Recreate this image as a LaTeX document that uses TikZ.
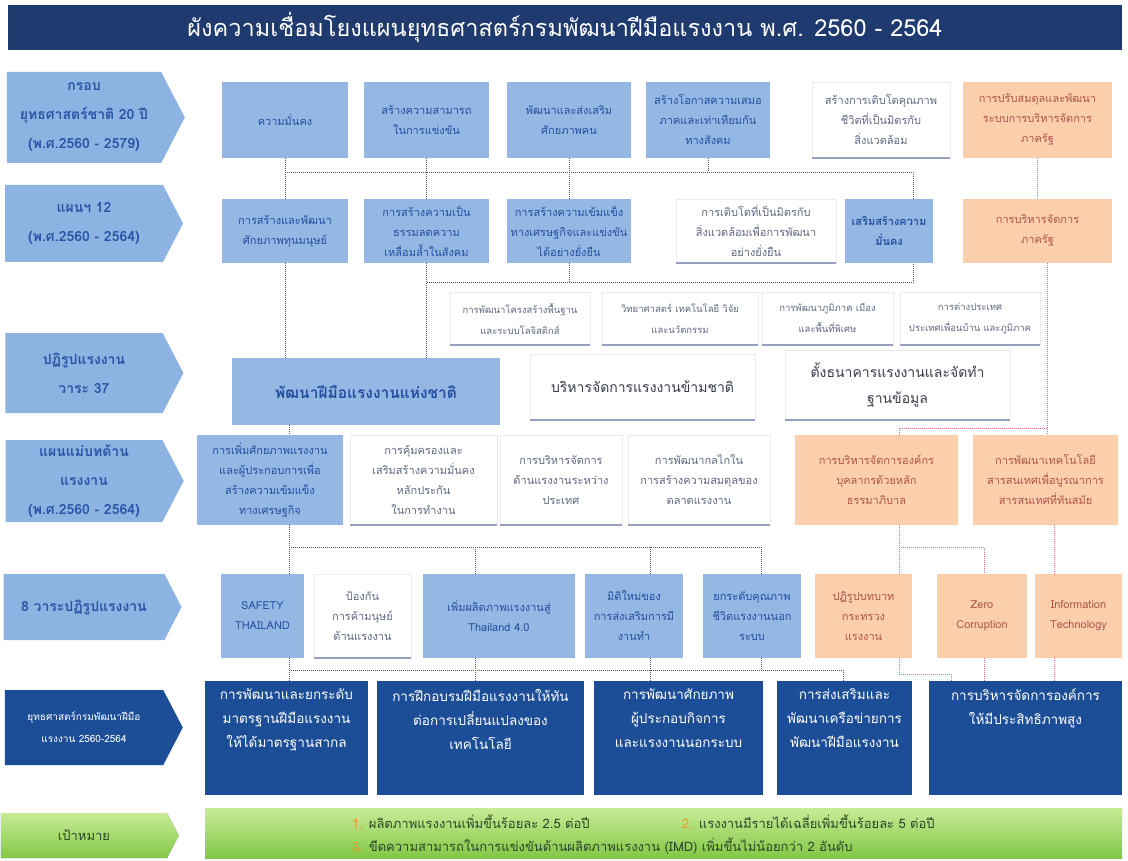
\documentclass[tikz,border=0pt]{standalone}
\usepackage{fontspec}
\newfontfamily\thaifont[Script=Thai]{Loma}
\usetikzlibrary{shapes.symbols,positioning}

\definecolor{titlenavy}{RGB}{30,58,110}
\definecolor{arrowblue}{RGB}{141,179,226}
\definecolor{labelblue}{RGB}{40,85,165}
\definecolor{boxblue}{RGB}{149,183,228}
\definecolor{textblue}{RGB}{35,80,160}
\definecolor{textgray}{RGB}{95,105,130}
\definecolor{textdark}{RGB}{55,60,75}
\definecolor{shadowblue}{RGB}{150,160,190}
\definecolor{boxorange}{RGB}{251,206,172}
\definecolor{textorange}{RGB}{175,85,75}
\definecolor{navyblue}{RGB}{28,78,152}
\definecolor{dotblue}{RGB}{70,85,130}
\definecolor{dotpink}{RGB}{225,110,130}
\definecolor{greenlight}{RGB}{200,235,150}
\definecolor{greendark}{RGB}{130,200,70}
\definecolor{goaltext}{RGB}{45,70,40}
\definecolor{numorange}{RGB}{240,150,40}

\newcommand\boxfont{\thaifont\fontsize{11}{20}\selectfont}
\newcommand\smallfont{\thaifont\fontsize{9.5}{21}\selectfont}
\newcommand\labelfont{\thaifont\bfseries\fontsize{14}{29}\selectfont}
\newcommand\bigfont{\thaifont\fontsize{14}{26}\selectfont}
\newcommand\navyfont{\thaifont\fontsize{13.5}{24}\selectfont}
\newcommand\titlefont{\thaifont\fontsize{23.5}{28}\selectfont}
\newcommand\goalfont{\thaifont\fontsize{13}{24}\selectfont}

\begin{document}
\begin{tikzpicture}[x=1pt,y=-1pt,
  every node/.style={align=center,inner sep=2pt},
  rowlabel/.style={signal,signal to=east,signal pointer angle=125,minimum width=178pt,fill=arrowblue,text=labelblue,font=\labelfont},
  bluebox/.style={fill=boxblue,text=textblue,font=\boxfont},
  whitebox/.style={fill=white,draw=black!8,text=textgray,font=\boxfont,
    append after command={(\tikzlastnode.south west) edge[draw=shadowblue,line width=1.5pt] (\tikzlastnode.south east)}},
  orangebox/.style={fill=boxorange,text=textorange,font=\boxfont},
  navybox/.style={fill=navyblue},
  dotline/.style={draw=dotblue,line width=.9pt,dash pattern=on .8pt off 1.2pt},
  pinkline/.style={dotline,draw=dotpink}
]
\useasboundingbox (0,0) rectangle (1128,861);
\fill[white] (0,0) rectangle (1128,861);

% title
\node[fill=titlenavy,minimum width=1114pt,minimum height=45pt,text=white,font=\titlefont] (title) at (565,27.5)
  {ผังความเชื่อมโยงแผนยุทธศาสตร์กรมพัฒนาฝีมือแรงงาน พ.ศ. 2560 - 2564};

% row labels
\node[rowlabel,minimum height=91pt] (lA) at (84,117.5) {กรอบ\\ยุทธศาสตร์ชาติ 20 ปี\\(พ.ศ.2560 - 2579)};
\node[rowlabel,minimum height=77pt] (lB) at (84,223.5) {แผนฯ 12\\(พ.ศ.2560 - 2564)};
\node[rowlabel,minimum height=80pt] (lC) at (84,373) {ปฏิรูปแรงงาน\\วาระ 37};
\node[rowlabel,minimum height=82pt] (lD) at (84,481) {แผนแม่บทด้าน\\แรงงาน\\(พ.ศ.2560 - 2564)};
\node[rowlabel,minimum height=66pt] (lE) at (84,607) {8 วาระปฏิรูปแรงงาน};
\node[rowlabel,minimum height=75pt,fill=navyblue,text=white,font=\thaifont\fontsize{10}{22}\selectfont] (lF) at (84,727.5)
  {ยุทธศาสตร์กรมพัฒนาฝีมือ\\แรงงาน 2560-2564};
\node[rowlabel,minimum height=45pt,top color=greenlight,bottom color=greendark,text=goaltext,font=\goalfont] (lG) at (84,835.5) {เป้าหมาย};

% national strategy 20 years
\node[bluebox,minimum width=126pt,minimum height=76pt] (a1) at (285,120) {ความมั่นคง};
\node[bluebox,minimum width=125pt,minimum height=76pt] (a2) at (426.5,120) {สร้างความสามารถ\\ในการแข่งขัน};
\node[bluebox,minimum width=124pt,minimum height=76pt] (a3) at (569,120) {พัฒนาและส่งเสริม\\ศักยภาพคน};
\node[bluebox,minimum width=124pt,minimum height=76pt] (a4) at (708,120) {สร้างโอกาสความเสมอ\\ภาคและเท่าเทียมกัน\\ทางสังคม};
\node[whitebox,minimum width=138pt,minimum height=76pt] (a5) at (881,120) {สร้างการเติบโตคุณภาพ\\ชีวิตที่เป็นมิตรกับ\\สิ่งแวดล้อม};
\node[orangebox,minimum width=149pt,minimum height=76pt] (a6) at (1037.5,120) {การปรับสมดุลและพัฒนา\\ระบบการบริหารจัดการ\\ภาครัฐ};

% plan 12
\node[bluebox,minimum width=126pt,minimum height=64pt] (b1) at (285,231) {การสร้างและพัฒนา\\ศักยภาพทุนมนุษย์};
\node[bluebox,minimum width=125pt,minimum height=64pt] (b2) at (426.5,231) {การสร้างความเป็น\\ธรรมลดความ\\เหลื่อมล้ำในสังคม};
\node[bluebox,minimum width=124pt,minimum height=64pt] (b3) at (569,231) {การสร้างความเข้มแข็ง\\ทางเศรษฐกิจและแข่งขัน\\ได้อย่างยั่งยืน};
\node[whitebox,minimum width=160pt,minimum height=64pt] (b4) at (756,231) {การเติบโตที่เป็นมิตรกับ\\สิ่งแวดล้อมเพื่อการพัฒนา\\อย่างยั่งยืน};
\node[bluebox,minimum width=88pt,minimum height=64pt,font=\boxfont\bfseries] (b5) at (889,231) {เสริมสร้างความ\\มั่นคง};
\node[orangebox,minimum width=149pt,minimum height=64pt] (b6) at (1037.5,231) {การบริหารจัดการ\\ภาครัฐ};

\node[whitebox,minimum width=140pt,minimum height=53pt,font=\smallfont] (c1) at (520,318.5) {การพัฒนาโครงสร้างพื้นฐาน\\และระบบโลจิสติกส์};
\node[whitebox,minimum width=156pt,minimum height=53pt,font=\smallfont] (c2) at (680,318.5) {วิทยาศาสตร์ เทคโนโลยี วิจัย\\และนวัตกรรม};
\node[whitebox,minimum width=131pt,minimum height=53pt,font=\smallfont] (c3) at (827.5,318.5) {การพัฒนาภูมิภาค เมือง\\และพื้นที่พิเศษ};
\node[whitebox,minimum width=140pt,minimum height=53pt,font=\smallfont] (c4) at (970,318.5) {การต่างประเทศ\\ประเทศเพื่อนบ้าน และภูมิภาค};

% labour reform 37
\node[bluebox,minimum width=268pt,minimum height=67pt,font=\thaifont\bfseries\fontsize{15.5}{26}\selectfont] (d1) at (366,391.5) {พัฒนาฝีมือแรงงานแห่งชาติ};
\node[whitebox,minimum width=225pt,minimum height=66pt,font=\bigfont,text=textdark] (d2) at (642.5,387) {บริหารจัดการแรงงานข้ามชาติ};
\node[whitebox,minimum width=225pt,minimum height=70pt,font=\bigfont,text=textdark] (d3) at (897.5,385) {ตั้งธนาคารแรงงานและจัดทำ\\ฐานข้อมูล};

% labour master plan
\node[bluebox,minimum width=146pt,minimum height=90pt] (e1) at (270,480) {การเพิ่มศักยภาพแรงงาน\\และผู้ประกอบการเพื่อ\\สร้างความเข้มแข็ง\\ทางเศรษฐกิจ};
\node[whitebox,minimum width=147pt,minimum height=90pt] (e2) at (423.5,480) {การคุ้มครองและ\\เสริมสร้างความมั่นคง\\หลักประกัน\\ในการทำงาน};
\node[whitebox,minimum width=122pt,minimum height=90pt] (e3) at (561,480) {การบริหารจัดการ\\ด้านแรงงานระหว่าง\\ประเทศ};
\node[whitebox,minimum width=142pt,minimum height=90pt] (e4) at (699,480) {การพัฒนากลไกใน\\การสร้างความสมดุลของ\\ตลาดแรงงาน};
\node[orangebox,minimum width=163pt,minimum height=90pt] (e5) at (876.5,480) {การบริหารจัดการองค์กร\\บุคลากรด้วยหลัก\\ธรรมาภิบาล};
\node[orangebox,minimum width=145pt,minimum height=90pt] (e6) at (1045.5,480) {การพัฒนาเทคโนโลยี\\สารสนเทศเพื่อบูรณาการ\\สารสนเทศที่ทันสมัย};

% 8 reform agendas
\node[bluebox,minimum width=83pt,minimum height=84pt] (f1) at (262.5,616) {SAFETY\\THAILAND};
\node[whitebox,minimum width=97pt,minimum height=84pt] (f2) at (362.5,616) {ป้องกัน\\การค้ามนุษย์\\ด้านแรงงาน};
\node[bluebox,minimum width=152pt,minimum height=84pt] (f3) at (499,616) {เพิ่มผลิตภาพแรงงานสู่\\Thailand 4.0};
\node[bluebox,minimum width=98pt,minimum height=84pt] (f4) at (634,616) {มิติใหม่ของ\\การส่งเสริมการมี\\งานทำ};
\node[bluebox,minimum width=98pt,minimum height=84pt] (f5) at (752,616) {ยกระดับคุณภาพ\\ชีวิตแรงงานนอก\\ระบบ};
\node[orangebox,minimum width=97pt,minimum height=84pt] (f6) at (863.5,616) {ปฏิรูปบทบาท\\กระทรวง\\แรงงาน};
\node[orangebox,minimum width=90pt,minimum height=84pt] (f7) at (982,616) {Zero\\Corruption};
\node[orangebox,minimum width=87pt,minimum height=84pt] (f8) at (1078.5,616) {Information\\Technology};

% department strategies
\node[navybox,minimum width=163pt,minimum height=114pt] (g1) at (286.5,738) {};
\node[navybox,minimum width=207pt,minimum height=114pt] (g2) at (480.5,738) {};
\node[navybox,minimum width=169pt,minimum height=114pt] (g3) at (678.5,738) {};
\node[navybox,minimum width=135pt,minimum height=114pt] (g4) at (844.5,738) {};
\node[navybox,minimum width=193pt,minimum height=114pt] (g5) at (1025.5,738) {};
\node[below=6pt of g1.north,anchor=north,text=white,font=\navyfont] (g1t) {การพัฒนาและยกระดับ\\มาตรฐานฝีมือแรงงาน\\ให้ได้มาตรฐานสากล};
\node[below=6pt of g2.north,anchor=north,text=white,font=\navyfont] (g2t) {การฝึกอบรมฝีมือแรงงานให้ทัน\\ต่อการเปลี่ยนแปลงของ\\เทคโนโลยี};
\node[below=6pt of g3.north,anchor=north,text=white,font=\navyfont] (g3t) {การพัฒนาศักยภาพ\\ผู้ประกอบกิจการ\\และแรงงานนอกระบบ};
\node[below=6pt of g4.north,anchor=north,text=white,font=\navyfont] (g4t) {การส่งเสริมและ\\พัฒนาเครือข่ายการ\\พัฒนาฝีมือแรงงาน};
\node[below=6pt of g5.north,anchor=north,text=white,font=\navyfont] (g5t) {การบริหารจัดการองค์การ\\ให้มีประสิทธิภาพสูง};

% goals
\node[minimum width=917pt,minimum height=50pt,top color=greenlight,bottom color=greendark] (goal) at (663.5,833) {};
\node[anchor=west,font=\goalfont,text=goaltext] (goal1) at (350,822) {\textcolor{numorange}{1.} ผลิตภาพแรงงานเพิ่มขึ้นร้อยละ 2.5 ต่อปี};
\node[anchor=west,font=\goalfont,text=goaltext] (goal2) at (680,822) {\textcolor{numorange}{2.} แรงงานมีรายได้เฉลี่ยเพิ่มขึ้นร้อยละ 5 ต่อปี};
\node[anchor=west,font=\goalfont,text=goaltext] (goal3) at (350,846) {\textcolor{numorange}{3.} ขีดความสามารถในการแข่งขันด้านผลิตภาพแรงงาน (IMD) เพิ่มขึ้นไม่น้อยกว่า 2 อันดับ};

% connectors
\coordinate (busA) at (0,172);
\coordinate (busB) at (0,282);
\coordinate (busR) at (0,428);
\coordinate (busE) at (0,547);
\coordinate (busF) at (0,670);
\coordinate (busP) at (0,674);
\coordinate (colS) at (289,0);
\coordinate (colF3) at (475,0);
\coordinate (colF4) at (650,0);
\coordinate (colF5) at (761,0);
\coordinate (colG4) at (843,0);
\coordinate (colO) at (899,0);
\coordinate (colM) at (913,0);
\coordinate (colP) at (951,0);
\coordinate (colZ) at (984,0);
\coordinate (colR) at (1047,0);
\coordinate (colI) at (1054,0);

\draw[dotline] (a1.south) -- (b1.north);
\draw[dotline] (a2.south) -- (b2.north);
\draw[dotline] (a3.south) -- (b3.north);
\draw[dotline] (a4.south) -- (a4.south |- busA);
\draw[dotline] (a1.south |- busA) -- (colM |- busA) -- (b5.north -| colM);
\draw[pinkline] (a6.south) -- (b6.north);

\draw[dotline] (b1.south) -- (b1.south |- d1.north);
\draw[dotline] (b2.south) -- (b2.south |- d1.north);
\draw[dotline] (b3.south) -- (b3.south |- busB);
\draw[dotline] (b2.south |- busB) -- (colM |- busB) -- (b5.south -| colM);
\draw[pinkline] (b6.south -| colR) -- (e6.north -| colR);
\draw[pinkline] (colR |- busR) -- (colO |- busR) -- (e5.north -| colO);

\draw[dotline] (d1.south -| colS) -- (e1.north -| colS);

\draw[dotline] (e1.south -| colS) -- (f1.north -| colS);
\draw[dotline] (colS |- busE) -- (colF5 |- busE) -- (f5.north -| colF5);
\draw[dotline] (colF3 |- busE) -- (f3.north -| colF3);
\draw[dotline] (colF4 |- busE) -- (f4.north -| colF4);
\draw[pinkline] (e5.south -| colO) -- (f6.north -| colO);
\draw[pinkline] (colO |- busE) -- (colZ |- busE) -- (f7.north -| colZ);
\draw[pinkline] (e6.south -| colI) -- (f8.north -| colI);

\draw[dotline] (f1.south -| colS) -- (g1.north -| colS);
\draw[dotline] (f3.south -| colF3) -- (g2.north -| colF3);
\draw[dotline] (f4.south -| colF4) -- (g3.north -| colF4);
\draw[dotline] (f5.south -| colF5) -- (colF5 |- busF);
\draw[dotline] (colS |- busF) -- (colG4 |- busF) -- (g4.north -| colG4);
\draw[pinkline] (f6.south -| colO) -- (colO |- busP) -- (colP |- busP) -- (g5.north -| colP);
\draw[pinkline] (f7.south -| colZ) -- (g5.north -| colZ);
\draw[pinkline] (f8.south -| colI) -- (g5.north -| colI);
\end{tikzpicture}
\end{document}
